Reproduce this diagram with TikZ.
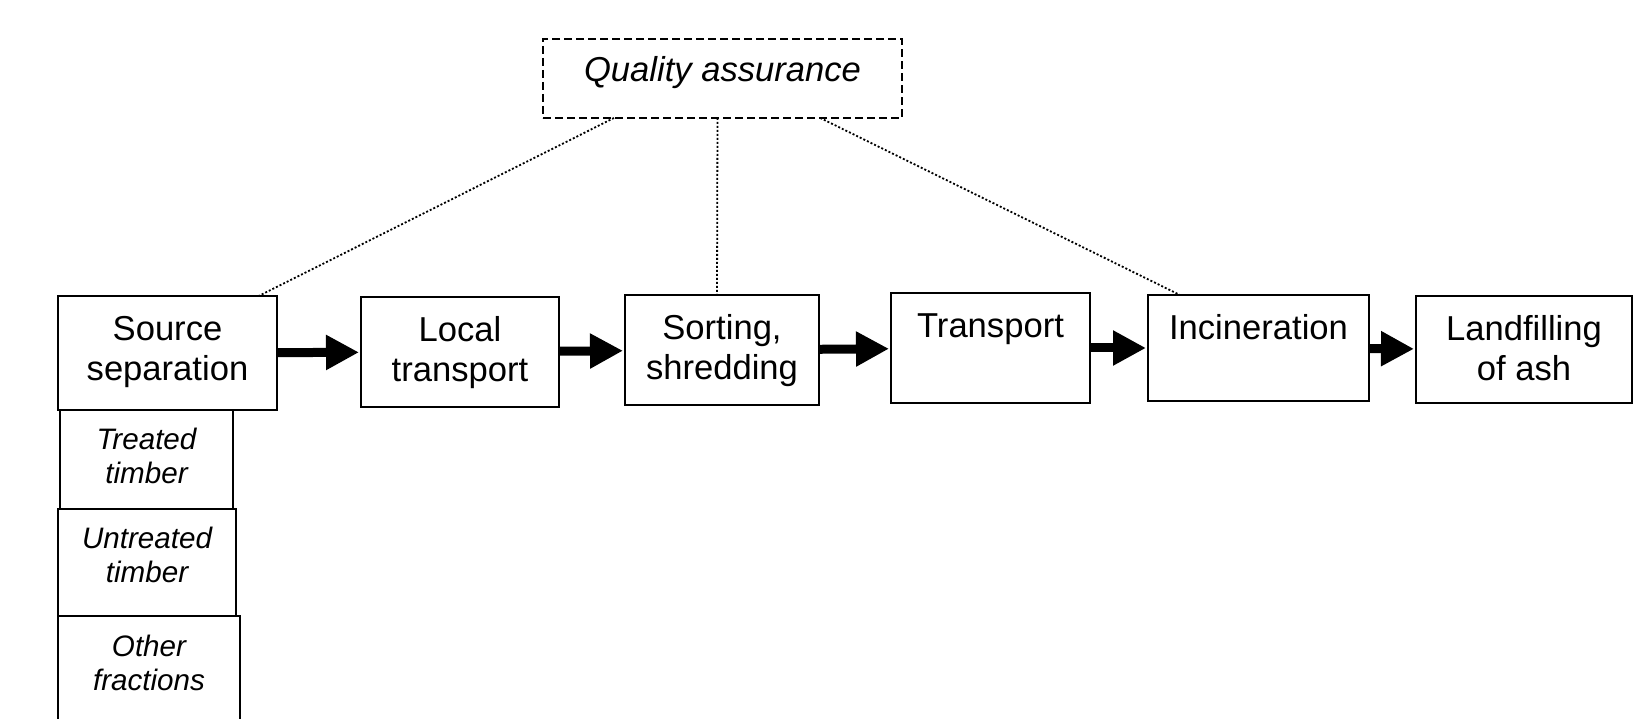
\documentclass[tikz,border=0pt]{standalone}
\usepackage{fontspec}
\setmainfont{Liberation Sans}
\usetikzlibrary{arrows.meta,positioning}
\newcommand{\boxtext}[4]{\parbox[c][#2pt][t]{#1pt}{\centering\rule{0pt}{#3pt}#4}}

\begin{document}
\begin{tikzpicture}[x=1pt,y=1pt,
    proc/.style={draw,line width=1.6pt,inner sep=0pt,outer sep=0pt,font=\fontsize{34.6}{40}\selectfont},
    frac/.style={proc,font=\fontsize{29.6}{34}\selectfont\itshape},
    qual/.style={proc,dash pattern=on 8pt off 4pt,font=\fontsize{34.6}{40}\selectfont\itshape},
    flow/.style={line width=9pt,-{Triangle[length=33pt,width=33pt]},shorten <=1pt,shorten >=2pt},
    link/.style={line width=1.8pt,dash pattern=on 2pt off 2pt}]
  \useasboundingbox (0,0) rectangle (1634,718);

  % main chain
  \node [proc] (src) at (167.5,365) {\boxtext{219}{114}{45}{Source\\separation}};
  \node [proc] (loc) [right=84pt of src, yshift=1pt] {\boxtext{198}{110}{45}{Local\\transport}};
  \node [proc] (sort) [right=66pt of loc, yshift=2pt] {\boxtext{194}{110}{45}{Sorting,\\shredding}};
  \node [proc] (trans) [right=72pt of sort, yshift=2pt] {\boxtext{199}{110}{45}{Transport}};
  \node [proc] (inc) [right=58pt of trans] {\boxtext{221}{106}{45}{Incineration}};
  \node [proc] (land) [right=47pt of inc, yshift=-1.5pt] {\boxtext{216}{107}{45}{Landfilling\\of ash}};

  % fractions under source separation
  \node [frac, below right=0pt and 2pt of src.south west] (f_1) {\boxtext{173}{99}{40}{Treated\\timber}};
  \node [frac, below right=0pt and -2pt of f_1.south west] (f_2) {\boxtext{178}{107}{40}{Untreated\\timber}};
  \node [frac, below right=0pt and 0pt of f_2.south west] (f_3) {\boxtext{182}{125}{41}{Other\\fractions}};

  \node [qual] (qa) at (722.5,639.5) {\boxtext{359}{79}{43}{Quality assurance}};

  \draw [flow] (src) -- (loc);
  \draw [flow] (loc) -- (sort);
  \draw [flow] (sort) -- (trans);
  \draw [flow] (trans) -- (inc);
  \draw [flow] (inc) -- (land);

  \draw [link] (qa.200) -- (src.32);
  \draw [link] ([xshift=-5pt]qa.south) -- ([xshift=-5pt]sort.north);
  \draw [link] (qa.338) -- (inc.146);
\end{tikzpicture}
\end{document}
